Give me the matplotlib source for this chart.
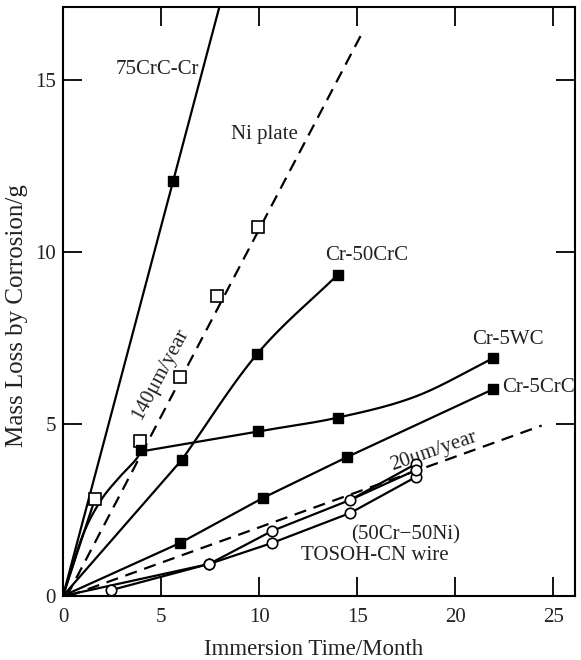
import numpy as np
import matplotlib
matplotlib.use("Agg")
import matplotlib.pyplot as plt

plt.rcParams['font.family'] = ['Liberation Serif', 'DejaVu Serif']

# ---- data ----
crc75_x = [0.0, 5.6]
crc75_y = [0.0, 12.05]
crc75_end = (8.2, 17.6)          # line continues out the top

ni_x = [1.63, 3.95, 5.95, 7.85, 9.95]
ni_y = [2.82, 4.5, 6.36, 8.7, 10.72]

cr50_x = [0.0, 6.05, 9.9, 14.0]
cr50_y = [0.0, 3.95, 7.03, 9.33]

wc_rise_x = [0.0, 1.0, 1.9, 2.8, 3.7, 4.0]     # traced rising part
wc_rise_y = [0.0, 1.75, 2.75, 3.4, 3.95, 4.25]
wc_x = [4.0, 9.95, 14.0, 18.0, 21.9]
wc_y = [4.2, 4.78, 5.18, 5.8, 6.9]
wc_mx = [4.0, 9.95, 14.0, 21.9]
wc_my = [4.25, 4.78, 5.18, 6.9]

crc5_x = [0.0, 5.97, 10.2, 14.5, 21.9]
crc5_y = [0.0, 1.54, 2.85, 4.04, 6.0]

rate140_x = [0.2, 15.2]
rate140_y = [0.0, 16.3]
rate20_x = [0.3, 24.4]
rate20_y = [0.0, 4.95]

tosoh1_x = [0.0, 7.45, 10.66, 14.64, 18.0]
tosoh1_y = [0.0, 0.93, 1.89, 2.79, 3.84]
tosoh2_x = [2.45, 7.45, 10.66, 14.64, 18.0]
tosoh2_y = [0.17, 0.93, 1.54, 2.41, 3.46]
tosoh3_x = [14.64, 18.0]
tosoh3_y = [2.79, 3.66]

xticks = [0, 5, 10, 15, 20, 25]
yticks = [0, 5, 10, 15]


def catmull(xs, ys, n=40):
    p = np.column_stack([xs, ys]).astype(float)
    p = np.vstack([2 * p[0] - p[1], p, 2 * p[-1] - p[-2]])
    out = []
    t = np.linspace(0, 1, n)[:, None]
    for i in range(1, len(p) - 2):
        p0, p1, p2, p3 = p[i - 1], p[i], p[i + 1], p[i + 2]
        seg = 0.5 * ((2 * p1) + (-p0 + p2) * t + (2 * p0 - 5 * p1 + 4 * p2 - p3) * t ** 2
                     + (-p0 + 3 * p1 - 3 * p2 + p3) * t ** 3)
        out.append(seg)
    s = np.vstack(out)
    return s[:, 0], s[:, 1]


fig = plt.figure(figsize=(5.81, 6.60), dpi=100)
ax = fig.add_axes([0.1084, 0.097, 0.8813, 0.892])

lw = 1.6
k = 'black'
sq_f = dict(marker='s', ms=7, mfc=k, mec=k, ls='none', zorder=5)
sq_o = dict(marker='s', ms=8, mfc='white', mec=k, mew=1.2, ls='none', zorder=5)
ci_o = dict(marker='o', ms=7.5, mfc='white', mec=k, mew=1.2, ls='none', zorder=5)

# 75CrC-Cr
ax.plot([crc75_x[0], crc75_end[0]], [crc75_y[0], crc75_end[1]], color=k, lw=lw)
ax.plot(crc75_x[1:], crc75_y[1:], **sq_f)
# Ni plate + 140um/year
ax.plot([0, ni_x[0]], [0, ni_y[0]], color=k, lw=lw)
ax.plot(rate140_x, rate140_y, color=k, lw=lw, ls=(0, (5.5, 3.5)))
ax.plot(ni_x, ni_y, **sq_o)
# Cr-50CrC
ax.plot(cr50_x[:2], cr50_y[:2], color=k, lw=lw)
cx, cy = catmull(cr50_x[1:], cr50_y[1:])
ax.plot(cx, cy, color=k, lw=lw)
ax.plot(cr50_x[1:], cr50_y[1:], **sq_f)
# Cr-5WC
cx, cy = catmull(wc_rise_x, wc_rise_y)
ax.plot(cx, cy, color=k, lw=lw)
cx, cy = catmull(wc_x, wc_y)
ax.plot(cx, cy, color=k, lw=lw)
ax.plot(wc_mx, wc_my, **sq_f)
# Cr-5CrC
ax.plot(crc5_x, crc5_y, color=k, lw=lw)
ax.plot(crc5_x[1:], crc5_y[1:], **sq_f)
# 20um/year
ax.plot(rate20_x, rate20_y, color=k, lw=lw, ls=(0, (5.5, 3.5)))
# TOSOH
for xs, ys in [(tosoh1_x, tosoh1_y), (tosoh2_x, tosoh2_y), (tosoh3_x, tosoh3_y)]:
    ax.plot(xs, ys, color=k, lw=lw)
for xs, ys in [(tosoh1_x[1:], tosoh1_y[1:]), (tosoh2_x, tosoh2_y), (tosoh3_x[1:], tosoh3_y[1:])]:
    ax.plot(xs, ys, **ci_o)

fs = 15
tc = '#222222'
ax.text(4.8, 15.3, '75CrC-Cr', fontsize=fs, ha='center', va='center', color=tc)
ax.text(10.25, 13.4, 'Ni plate', fontsize=fs, ha='center', va='center', color=tc)
ax.text(15.5, 9.9, 'Cr-50CrC', fontsize=fs, ha='center', va='center', color=tc)
ax.text(4.95, 6.45, '140μm/year', fontsize=fs, ha='center', va='center', rotation=62, color=tc)
ax.text(22.7, 7.45, 'Cr-5WC', fontsize=fs, ha='center', va='center', color=tc)
ax.text(22.4, 6.05, 'Cr-5CrC', fontsize=fs, ha='left', va='center', color=tc)
ax.text(18.9, 4.2, '20μm/year', fontsize=fs, ha='center', va='center', rotation=19, color=tc)
ax.text(17.45, 1.77, '(50Cr−50Ni)', fontsize=fs, ha='center', va='center', color=tc)
ax.text(15.9, 1.19, 'TOSOH-CN wire', fontsize=fs, ha='center', va='center', color=tc)

ax.set_xlim(0, 26.1)
ax.set_ylim(0, 17.1)
ax.set_xticks(xticks)
ax.set_yticks(yticks)
ax.set_xticklabels([str(v) for v in xticks])
ax.set_yticklabels([str(v) for v in yticks])
ax.tick_params(direction='in', length=14, width=1.3, top=True, right=True,
               labelsize=15, colors=k, labelcolor=tc)
ax.tick_params(axis='x', pad=9)
ax.tick_params(axis='y', pad=5)
ax.tick_params(axis='x', labeltop=False)
ax.tick_params(axis='y', labelright=False)
for s in ax.spines.values():
    s.set_linewidth(1.5)

ax.set_xlabel('Immersion Time/Month', fontsize=16.5, color=tc)
ax.set_ylabel('Mass Loss by Corrosion/g', fontsize=18, color=tc)
ax.xaxis.set_label_coords(0.49, -0.073)
ax.yaxis.set_label_coords(-0.068, 0.477)

fig.savefig('out.png', dpi=100)
